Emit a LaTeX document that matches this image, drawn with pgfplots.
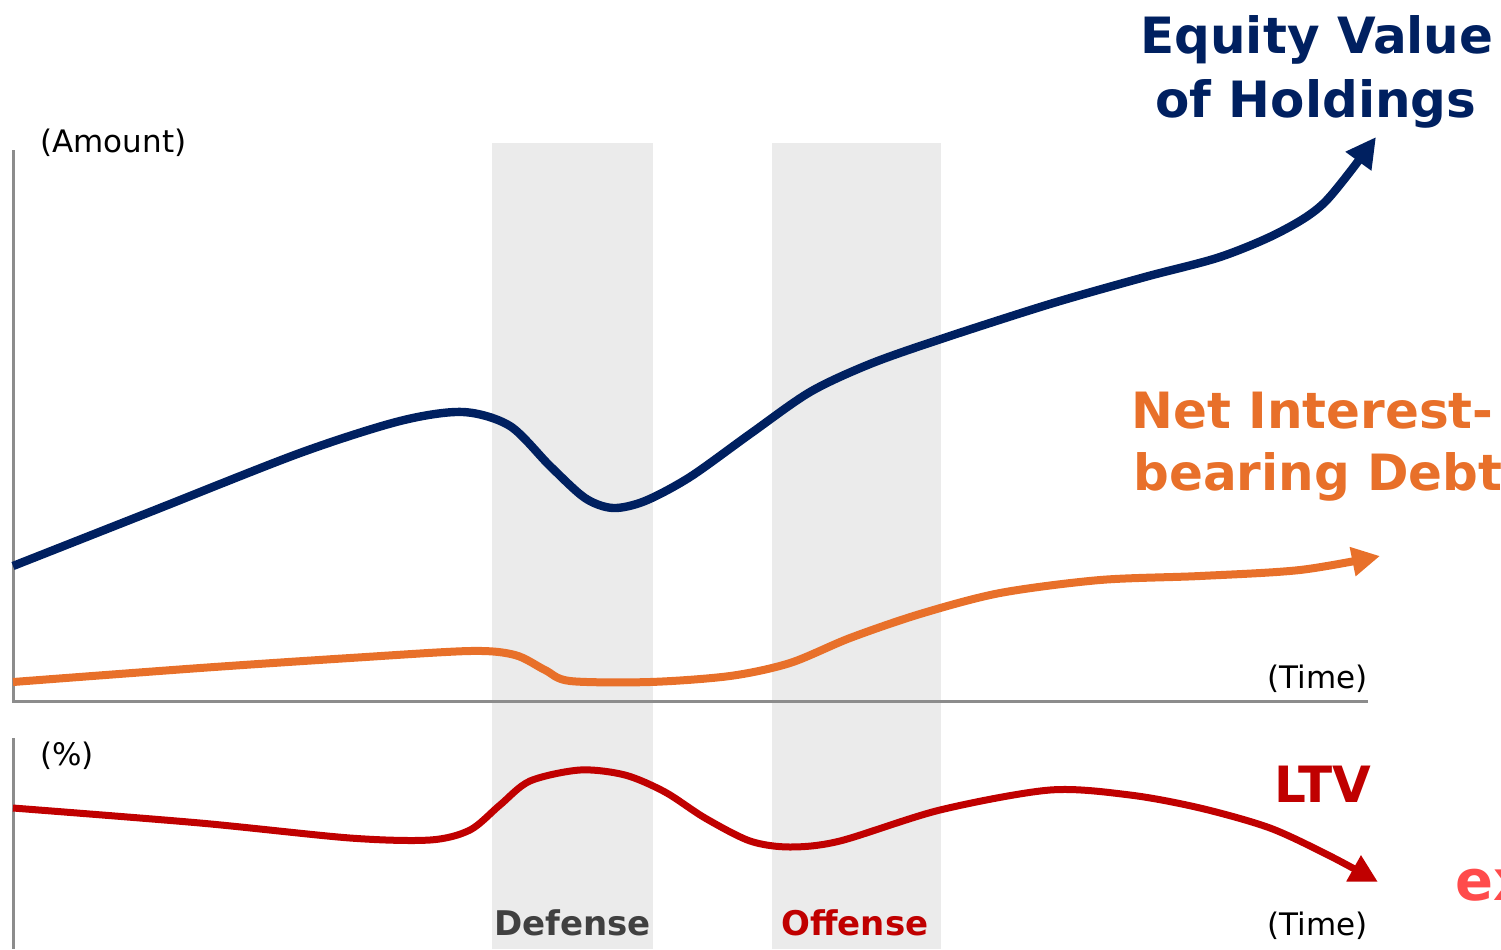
\documentclass[border=0pt]{standalone}
\usepackage{pgfplots}
\pgfplotsset{compat=1.18}
\usepackage{fontspec}
\setmainfont{DejaVu Sans}
\usetikzlibrary{arrows.meta}
\definecolor{navy}{HTML}{002060}
\definecolor{orng}{HTML}{E8702A}
\definecolor{dred}{HTML}{C00000}
\definecolor{lred}{HTML}{FF4B4B}
\definecolor{band}{HTML}{EBEBEB}
\definecolor{axg}{HTML}{8C8C8C}
\definecolor{dgray}{HTML}{404040}
\begin{document}
\begin{tikzpicture}
\useasboundingbox (0,0) rectangle (750.5pt,474.5pt);
\clip (0,0) rectangle (750.5pt,474.5pt);
\begin{axis}[at={(0,0)}, anchor=south west, hide axis, scale only axis,
  width=750.5pt, height=474.5pt, xmin=0, xmax=1501, ymin=0, ymax=949,
  y dir=reverse, clip=false]
% shaded phases
\addplot[fill=band, draw=none] coordinates {(492,143) (653,143) (653,949) (492,949)} -- cycle;
\addplot[fill=band, draw=none] coordinates {(772,143) (941,143) (941,949) (772,949)} -- cycle;
% axis lines
\addplot[axg, line width=1.5pt] coordinates {(13,150) (13,701) (1368,701)};
\addplot[axg, line width=1.5pt] coordinates {(13,738) (13,949)};
% Equity value
\addplot[navy, line width=4.2pt, smooth, -{Triangle[length=15pt,width=15pt]}] coordinates {
(13,566) (150,512) (300,453) (400,421) (463,412) (510,426) (550,466) (585,498)
(613,508) (645,501) (690,477) (750,434) (810,392) (870,364) (941,339) (1050,304)
(1145,277) (1220,257) (1280,232) (1325,202) (1376,137)};
% Net interest-bearing debt
\addplot[orng, line width=4pt, smooth, -{Triangle[length=14pt,width=14pt]}] coordinates {
(13,682) (200,668) (350,658) (470,651) (515,655) (545,670) (570,681)
(650,682) (730,676) (790,663) (850,638) (920,614)
(1000,593) (1100,580) (1200,576) (1300,570) (1380,556)};
% LTV
\addplot[dred, line width=3.5pt, smooth, -{Triangle[length=14pt,width=14pt]}] coordinates {
(13,808) (200,823) (350,838) (430,840) (470,830) (500,805) (530,781) (580,770)
(625,775) (665,792) (705,818) (750,841) (790,847) (840,841) (940,810) (1050,790)
(1130,795) (1200,808) (1270,828) (1330,856) (1378,882)};
% texts
\tikzset{tx/.style={inner sep=0pt, anchor=base west}}
\node[tx, text=black, font=\fontsize{15.5}{18}\selectfont] at (axis cs:40,152) {(Amount)};
\node[tx, text=black, font=\fontsize{15.5}{18}\selectfont] at (axis cs:40,765) {(\%)};
\node[tx, text=black, font=\fontsize{15.5}{18}\selectfont] at (axis cs:1267,688) {(Time)};
\node[tx, text=black, font=\fontsize{15.5}{18}\selectfont] at (axis cs:1267,935) {(Time)};
\node[tx, text=dgray, font=\fontsize{17}{20}\selectfont\bfseries] at (axis cs:494,935) {Defense};
\node[tx, text=dred, font=\fontsize{17}{20}\selectfont\bfseries] at (axis cs:781,935) {Offense};
\node[tx, text=navy, font=\fontsize{25}{30}\selectfont\bfseries] at (axis cs:1140,53) {Equity Value};
\node[tx, text=navy, font=\fontsize{25}{30}\selectfont\bfseries] at (axis cs:1155,117) {of Holdings};
\node[tx, text=orng, font=\fontsize{25}{30}\selectfont\bfseries] at (axis cs:1131,428) {Net Interest-};
\node[tx, text=orng, font=\fontsize{25}{30}\selectfont\bfseries] at (axis cs:1133,490) {bearing Debt};
\node[tx, text=dred, font=\fontsize{25}{30}\selectfont\bfseries] at (axis cs:1274,802) {LTV};
\node[tx, text=lred, font=\fontsize{28}{34}\selectfont\bfseries] at (axis cs:1455,900) {ex};
\end{axis}
\end{tikzpicture}
\end{document}
